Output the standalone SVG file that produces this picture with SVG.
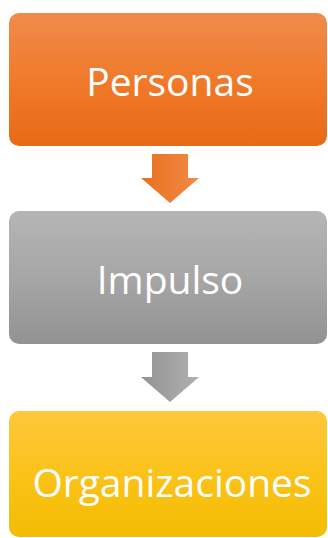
<svg xmlns="http://www.w3.org/2000/svg" width="328" height="538" viewBox="0 0 328 538">
<defs>
<linearGradient id="gO" x1="0" y1="0" x2="0" y2="1"><stop offset="0" stop-color="#F08B4C"/><stop offset="0.5" stop-color="#F07A2A"/><stop offset="1" stop-color="#E86A17"/></linearGradient>
<linearGradient id="gG" x1="0" y1="0" x2="0" y2="1"><stop offset="0" stop-color="#B5B5B5"/><stop offset="0.5" stop-color="#A6A6A6"/><stop offset="1" stop-color="#929292"/></linearGradient>
<linearGradient id="gY" x1="0" y1="0" x2="0" y2="1"><stop offset="0" stop-color="#FDC83C"/><stop offset="0.5" stop-color="#FBC21A"/><stop offset="1" stop-color="#F3BC00"/></linearGradient>
<linearGradient id="aO" x1="0" y1="0" x2="1" y2="0"><stop offset="0" stop-color="#E9711F"/><stop offset="1" stop-color="#F28A45"/></linearGradient>
<linearGradient id="aG" x1="0" y1="0" x2="1" y2="0"><stop offset="0" stop-color="#939393"/><stop offset="1" stop-color="#B0B0B0"/></linearGradient>
</defs>
<style>
.lbl{font-family:"Open Sans","Liberation Sans",sans-serif;font-size:39px;fill:#FFFFFF;text-anchor:middle}
</style>
<rect width="328" height="538" fill="#FFFFFF"/>
<g id="connectors">
<polygon points="152,154 188,154 188,178 199,178 170,203 141,178 152,178" fill="url(#aO)"/>
<polygon points="152,352 188,352 188,377 199,377 170,402 141,377 152,377" fill="url(#aG)"/>
</g>
<g id="personas">
<rect x="9" y="13" width="318" height="133" rx="10" fill="url(#gO)"/>
<text class="lbl" x="170" y="96">Personas</text>
</g>
<g id="impulso">
<rect x="9" y="211" width="318" height="133" rx="10" fill="url(#gG)"/>
<text class="lbl" x="170" y="294">Impulso</text>
</g>
<g id="organizaciones">
<rect x="9" y="411" width="318" height="126" rx="10" fill="url(#gY)"/>
<text class="lbl" x="172" y="497">Organizaciones</text>
</g>
</svg>
